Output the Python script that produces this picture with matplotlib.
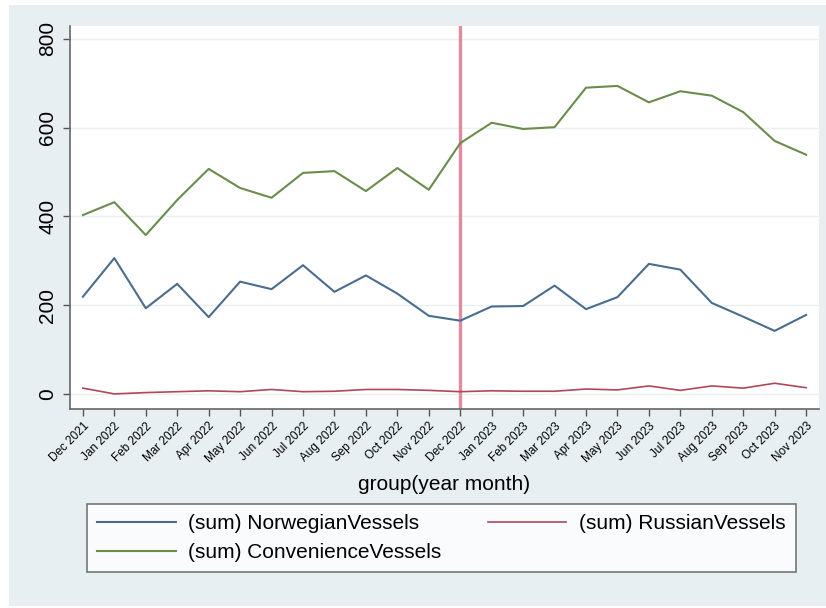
import matplotlib.pyplot as plt
from matplotlib.patches import Rectangle

months = ["Dec 2021", "Jan 2022", "Feb 2022", "Mar 2022", "Apr 2022", "May 2022",
          "Jun 2022", "Jul 2022", "Aug 2022", "Sep 2022", "Oct 2022", "Nov 2022",
          "Dec 2022", "Jan 2023", "Feb 2023", "Mar 2023", "Apr 2023", "May 2023",
          "Jun 2023", "Jul 2023", "Aug 2023", "Sep 2023", "Oct 2023", "Nov 2023"]

norwegian = [219, 306, 193, 248, 173, 253, 236, 290, 230, 267, 226, 176,
             165, 197, 198, 244, 191, 218, 293, 280, 205, 174, 142, 178]
russian = [13, 0, 3, 5, 7, 5, 10, 5, 6, 10, 10, 8,
           5, 7, 6, 6, 11, 9, 18, 8, 18, 13, 24, 14]
convenience = [403, 432, 358, 437, 507, 464, 442, 498, 502, 457, 509, 460,
               565, 611, 597, 601, 690, 694, 657, 682, 672, 635, 570, 539]

event_month = "Dec 2022"

plt.rcParams['font.family'] = ['Liberation Sans', 'DejaVu Sans']

W, H = 826, 608
fig = plt.figure(figsize=(W / 100, H / 100), dpi=100, facecolor="white")

# light stata-style background panel
fig.patches.append(Rectangle((9 / W, 2 / H), 817 / W, 601 / H, transform=fig.transFigure,
                             facecolor="#e8eff2", edgecolor="none", zorder=-10))

ax = fig.add_axes([70 / W, 1 - 409 / H, 749 / W, 383 / H])
ax.set_facecolor("white")

x = list(range(len(months)))
ax.plot(x, norwegian, color="#4a6d8f", lw=1.5, label="(sum) NorwegianVessels")
ax.plot(x, russian, color="#b0485a", lw=1.2, label="(sum) RussianVessels")
ax.plot(x, convenience, color="#6b8c4c", lw=1.5, label="(sum) ConvenienceVessels")

ax.axvline(months.index(event_month), color="#e48aa0", lw=2.4, zorder=1)

ax.set_xlim(-0.41, len(months) - 1 + 0.41)
ax.set_ylim(-34, 829)

ax.set_yticks([0, 200, 400, 600, 800])
ax.set_yticklabels(["0", "200", "400", "600", "800"], rotation=90, va="center", fontsize=15)
ax.yaxis.grid(True, color="#e9f0f1", lw=1.0)
ax.set_axisbelow(True)

ax.set_xticks(x)
ax.set_xticklabels(months, rotation=45, ha="right", rotation_mode="anchor", fontsize=8.5)
ax.tick_params(axis="both", direction="out", length=5, width=1, color="#555555")
ax.tick_params(axis="x", pad=3)
ax.tick_params(axis="y", pad=4)

for side in ["top", "right"]:
    ax.spines[side].set_visible(False)
for side in ["left", "bottom"]:
    ax.spines[side].set_color("#666666")
    ax.spines[side].set_linewidth(1.2)

ax.set_xlabel("group(year month)", fontsize=15, labelpad=7)

handles, labels = ax.get_legend_handles_labels()
order = [0, 2, 1]
leg = fig.legend([handles[i] for i in order], [labels[i] for i in order],
                 loc="upper left", bbox_to_anchor=(87 / W, 1 - 504 / H), ncol=2,
                 frameon=True, fancybox=False, fontsize=15, handlelength=3.75,
                 handletextpad=0.62, columnspacing=2.2, labelspacing=0.45,
                 borderpad=0.5, borderaxespad=0)
leg.get_frame().set_edgecolor("#555555")
leg.get_frame().set_linewidth(1.2)

fig.savefig("out.png", dpi=100, facecolor=fig.get_facecolor())
